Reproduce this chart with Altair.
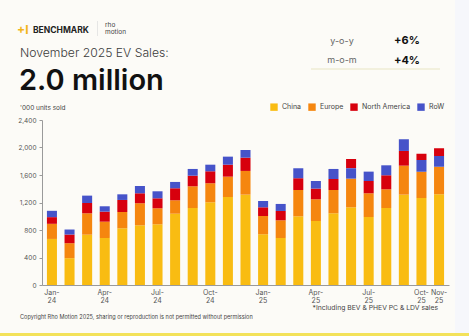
import altair as alt
import pandas as pd

months = ["Jan-24", "Feb-24", "Mar-24", "Apr-24", "May-24", "Jun-24", "Jul-24", "Aug-24",
          "Sep-24", "Oct-24", "Nov-24", "Dec-24", "Jan-25", "Feb-25", "Mar-25", "Apr-25",
          "May-25", "Jun-25", "Jul-25", "Aug-25", "Sep-25", "Oct-25", "Nov-25"]
china = [670, 390, 732, 684, 825, 868, 883, 1037, 1120, 1203, 1280, 1314,
         738, 684, 999, 931, 1043, 1130, 989, 1120, 1314, 1266, 1320]
europe = [220, 218, 311, 237, 237, 321, 233, 195, 316, 277, 296, 345,
          266, 257, 383, 316, 339, 417, 345, 272, 422, 383, 401]
north_america = [97, 126, 150, 146, 175, 145, 145, 175, 154, 174, 174, 193,
                 126, 136, 171, 155, 160, 135, 179, 204, 214, 91, 112]
row = [92, 73, 107, 78, 82, 106, 102, 92, 98, 96, 117, 112,
       92, 102, 145, 111, 146, 151, 136, 145, 170, 170, 156]
regions = ["China", "Europe", "North America", "RoW"]
region_colors = ["#F9BC12", "#F5860F", "#D7000D", "#4653C9"]
y_ticks = [0, 400, 800, 1200, 1600, 2000, 2400]

headline = ["November 2025 EV Sales:"]
big_number = ["2.0 million"]
change_labels = ["y-o-y", "m-o-m"]
change_values = ["+6%", "+4%"]
unit_note = ["'000 units sold"]
footnote = ["*Including BEV & PHEV PC & LDV sales"]
copyright_note = ["Copyright Rho Motion 2025, sharing or reproduction is not permitted without permission"]
brand = ["BENCHMARK"]
brand2 = ["rho\nmotion"]

series = {"China": china, "Europe": europe, "North America": north_america, "RoW": row}
rows = []
for r in regions:
    for m, v in zip(months, series[r]):
        rows.append({"month": m, "region": r, "value": v})
df = pd.DataFrame(rows)

FONT = "Inter"

label_expr = ("indexof(['Jan','Apr','Jul','Oct'], slice(datum.value,0,3)) >= 0 || datum.value == 'Nov-25'"
              " ? [slice(datum.value,0,4), slice(datum.value,4)] : ''")

bars = alt.Chart(df).mark_bar().encode(
    x=alt.X("month:N", sort=months,
            scale=alt.Scale(paddingInner=0.43, paddingOuter=0.28),
            axis=alt.Axis(title=None, labelAngle=0, ticks=False, labelExpr=label_expr,
                          labelOverlap=False, labelFontSize=7, labelLineHeight=8,
                          labelColor="#555555", domainColor="#9a9a9a", labelPadding=3,
                          labelFont=FONT)),
    y=alt.Y("value:Q", stack="zero", scale=alt.Scale(domain=[0, 2400], nice=False),
            axis=alt.Axis(title=None, values=y_ticks, format=",.0f", grid=False,
                          labelFontSize=6.5, labelColor="#555555", domainColor="#9a9a9a",
                          tickColor="#9a9a9a", tickSize=3, labelPadding=3, labelFont=FONT)),
    color=alt.Color("region:N", scale=alt.Scale(domain=regions, range=region_colors),
                    legend=alt.Legend(title=None, orient="none", direction="horizontal",
                                      legendX=228, legendY=-17, symbolType="square",
                                      symbolSize=55, symbolStrokeWidth=0, labelFontSize=7,
                                      labelColor="#444444", columnPadding=6, labelFont=FONT)),
    order=alt.Order("value:Q", sort="descending"),
)


def txt(values, x, y, size, color="#333333", weight="normal", align="left", font=FONT, **kw):
    return alt.Chart(pd.DataFrame({"t": values})).mark_text(
        align=align, baseline="alphabetic", fontSize=size, color=color,
        fontWeight=weight, font=font, **kw
    ).encode(text="t:N", x=alt.value(x), y=alt.value(y))


def rect(x, x2, y, y2, color):
    return alt.Chart(pd.DataFrame({"a": [0]})).mark_rect(color=color).encode(
        x=alt.value(x), x2=alt.value(x2), y=alt.value(y), y2=alt.value(y2))


ox, oy = 42, 120  # plot origin in page pixels

layers = [
    rect(455 - ox, 469 - ox, -oy, 336 - oy, "#F6F7FB"),
    rect(-ox, 469 - ox, 333 - oy, 336 - oy, "#F3E25A"),
    bars,
    txt(["+I"], 17 - ox, 34 - oy, 12, color="#F2B51C", weight="bold"),
    txt(brand, 33 - ox, 33 - oy, 8.5, color="#222222", weight="bold"),
    rect(97 - ox, 97.7 - ox, 21 - oy, 36 - oy, "#DDDDDD"),
    txt(brand2, 105 - ox, 27 - oy, 6.5, color="#444444", lineBreak="\n", lineHeight=6.5),
    txt(headline, 20 - ox, 57 - oy, 12.2, color="#3a3a3a", weight=300),
    txt(big_number, 19 - ox, 90 - oy, 29, color="#111111", weight=600),
    txt(change_labels[:1], 342 - ox, 44 - oy, 9, color="#666666", align="center"),
    txt(change_labels[1:], 342 - ox, 63 - oy, 9, color="#666666", align="center"),
    txt(change_values[:1], 407 - ox, 44 - oy, 11, color="#111111", weight="bold", align="center"),
    txt(change_values[1:], 407 - ox, 64 - oy, 11, color="#111111", weight="bold", align="center"),
    rect(311 - ox, 440 - ox, 68.5 - oy, 69.5 - oy, "#E8E6C4"),
    txt(unit_note, 20 - ox, 110 - oy, 6.5, color="#444444"),
    txt(footnote, 438 - ox, 310 - oy, 6.8, color="#444444", align="right"),
    txt(copyright_note, 20 - ox, 319 - oy, 5.6, color="#444444"),
]

chart = alt.layer(*layers).properties(
    width=407, height=165,
    autosize=alt.AutoSizeParams(type="none"),
    padding={"left": ox, "top": oy, "right": 469 - ox - 407, "bottom": 336 - oy - 165},
    background="#FCFBF7",
).configure_view(stroke=None)

chart.save("out.html", embed_options={"renderer": "svg", "actions": False})
